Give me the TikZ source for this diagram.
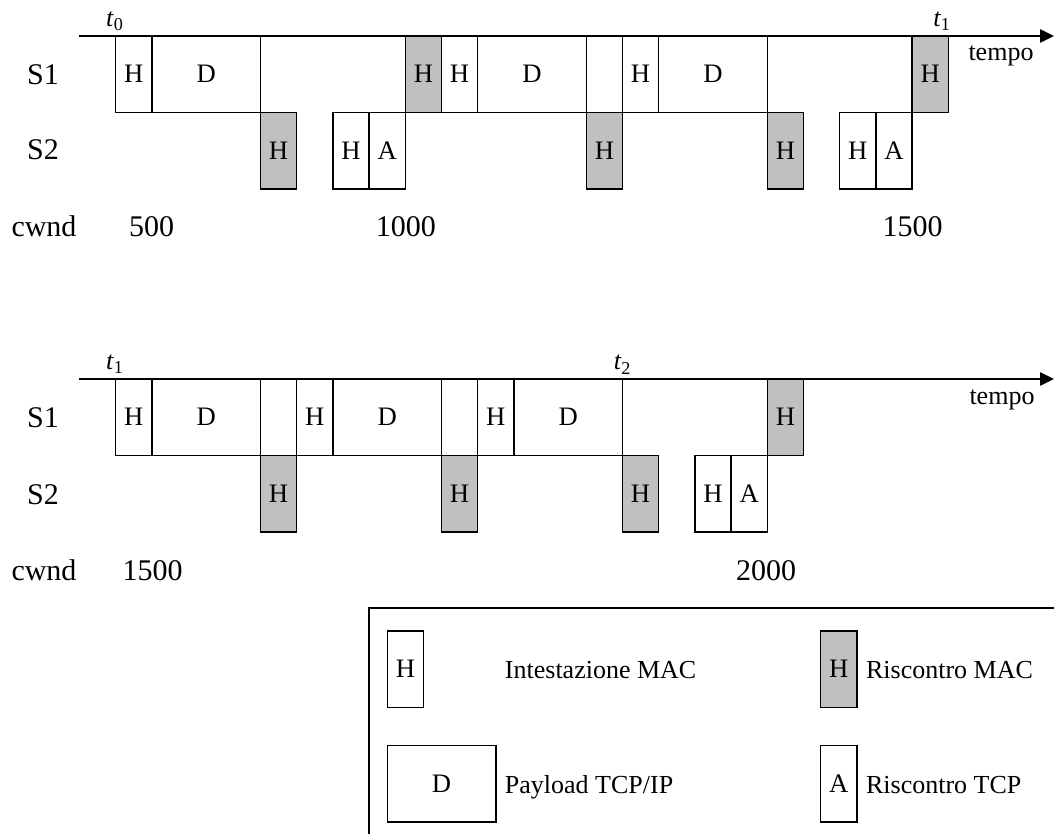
\documentclass[tikz,border=0pt]{standalone}
\usepackage{fontspec}
\setmainfont{Liberation Serif}
\usetikzlibrary{arrows.meta}
\definecolor{ackgray}{RGB}{192,192,192}
\newcommand\boxfont{\fontsize{20pt}{24pt}\selectfont}
\newcommand\labfont{\fontsize{22.5pt}{27pt}\selectfont}
\newcommand\smfont{\fontsize{19.5pt}{23pt}\selectfont}
\newcommand\tlab[1]{\textit{t}\textsubscript{#1}}
\tikzset{
  fr/.style={draw, line width=1.1pt, inner sep=0pt, outer sep=0pt, anchor=north west,
    minimum height=57.375pt, minimum width=27.15pt, font=\boxfont},
  frd/.style={fr, minimum width=81.45pt},
  ack/.style={fr, fill=ackgray},
  lab/.style={inner sep=0pt, anchor=base, font=\labfont},
  tl/.style={inner sep=0pt, anchor=base, font=\smfont},
  lt/.style={inner sep=0pt, anchor=base west, font=\smfont},
  axisline/.style={line width=1.1pt, -{Triangle[length=10.5pt,width=10pt]}},
  legline/.style={line width=1.1pt}
}
\begin{document}
\begin{tikzpicture}[x=0.75pt,y=-0.75pt]
\useasboundingbox (0,0) rectangle (1054,834);
% ---------------- top diagram ----------------
\coordinate (axAs) at (79,36);
\coordinate (axAe) at (1054,36);
\draw[axisline] (axAs) -- (axAe);
% S1 row
\node[fr]  (a1) at (115.7,36) {H};
\node[frd] (a2) at (151.9,36) {D};
\node[ack] (a3) at (405.3,36) {H};
\node[fr]  (a4) at (441.5,36) {H};
\node[frd] (a5) at (477.7,36) {D};
\node[fr]  (a6) at (586.3,36) {};
\node[fr]  (a7) at (622.5,36) {H};
\node[frd] (a8) at (658.7,36) {D};
\node[ack] (a9) at (912.1,36) {H};
% S2 row
\node[ack] (b1) at (260.5,112.5) {H};
\node[fr]  (b2) at (332.9,112.5) {H};
\node[fr]  (b3) at (369.1,112.5) {A};
\node[ack] (b4) at (586.3,112.5) {H};
\node[ack] (b5) at (767.3,112.5) {H};
\node[fr]  (b6) at (839.7,112.5) {H};
\node[fr]  (b7) at (875.9,112.5) {A};
% labels
\node[lab] (s1a) at (43,85) {S1};
\node[lab] (s2a) at (43,160) {S2};
\node[lab] (cwa) at (44,237) {cwnd};
\node[lab] (n500) at (151.5,237) {500};
\node[lab] (n1000) at (405.8,237) {1000};
\node[lab] (n1500a) at (912.5,237) {1500};
\node[tl] (t0a) at (115,26.5) {\tlab{0}};
\node[tl] (t1a) at (942,26.5) {\tlab{1}};
\node[tl] (tma) at (1001,60.5) {tempo};
% ---------------- bottom diagram ----------------
\coordinate (axBs) at (79,379);
\coordinate (axBe) at (1054,379);
\draw[axisline] (axBs) -- (axBe);
% S1 row
\node[fr]  (c1) at (115.7,379) {H};
\node[frd] (c2) at (151.9,379) {D};
\node[fr]  (c3) at (260.5,379) {};
\node[fr]  (c4) at (296.7,379) {H};
\node[frd] (c5) at (332.9,379) {D};
\node[fr]  (c6) at (441.5,379) {};
\node[fr]  (c7) at (477.7,379) {H};
\node[frd] (c8) at (513.9,379) {D};
\node[ack] (c9) at (767.3,379) {H};
% S2 row
\node[ack] (d1) at (260.5,455.5) {H};
\node[ack] (d2) at (441.5,455.5) {H};
\node[ack] (d3) at (622.5,455.5) {H};
\node[fr]  (d4) at (694.9,455.5) {H};
\node[fr]  (d5) at (731.1,455.5) {A};
% labels
\node[lab] (s1b) at (43,428) {S1};
\node[lab] (s2b) at (43,504) {S2};
\node[lab] (cwb) at (44,580) {cwnd};
\node[lab] (n1500b) at (152.6,580) {1500};
\node[lab] (n2000) at (766,580) {2000};
\node[tl] (t1b) at (115,369.5) {\tlab{1}};
\node[tl] (t2b) at (622.5,370) {\tlab{2}};
\node[tl] (tmb) at (1002,405) {tempo};
% ---------------- legend ----------------
\draw[legline] (1054,608) -- (369,608) -- (369,834);
\node[fr]  (lh) at (387.3,631) {H};
\node[frd] (ld) at (387.3,745.7) {D};
\node[ack] (lg) at (820.7,631) {H};
\node[fr]  (la) at (820.7,745.7) {A};
\node[lt] (lth) at (504.7,678.3) {Intestazione MAC};
\node[lt] (ltd) at (504.7,793) {Payload TCP/IP};
\node[lt] (ltg) at (865.8,678.3) {Riscontro MAC};
\node[lt] (lta) at (865.8,793) {Riscontro TCP};
\end{tikzpicture}
\end{document}
